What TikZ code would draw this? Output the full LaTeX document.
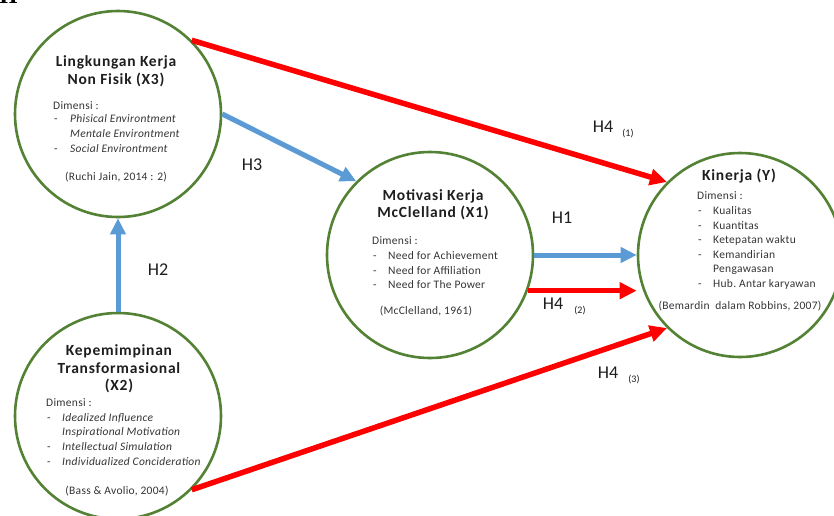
\documentclass[tikz,border=0pt]{standalone}
\usepackage{fontspec}
\setmainfont{Carlito}
\newfontfamily\serifhead{Liberation Serif}
\newfontfamily\ttlfont[LetterSpace=5]{Carlito}
\newfontfamily\bodyfont[LetterSpace=2.5]{Carlito}
\usetikzlibrary{arrows.meta}
\definecolor{cgreen}{RGB}{84,130,53}
\definecolor{cblue}{RGB}{91,155,213}
\definecolor{cred}{RGB}{255,0,0}
\definecolor{ctext}{RGB}{30,30,30}
\tikzset{
  circ/.style={circle,draw=cgreen,line width=2.6pt,minimum size=206pt,inner sep=0pt},
  ttl/.style={font=\ttlfont\fontsize{15.5}{18}\selectfont\bfseries,text=ctext,inner sep=0pt,text height=0.72em,text depth=0.22em},
  body/.style={font=\bodyfont\fontsize{11.5}{14}\selectfont,text=ctext!90,inner sep=0pt,text height=0.72em,text depth=0.22em,anchor=west},
  bodyc/.style={body,anchor=center},
  bul/.style={body},
  hlab/.style={font=\fontsize{18}{20}\selectfont,text=ctext,inner sep=0pt,text height=0.7em,text depth=0.2em},
  hsub/.style={font=\fontsize{10}{12}\selectfont,text=ctext,inner sep=0pt,text height=0.7em,text depth=0.2em},
  redarr/.style={draw=cred,line width=5.5pt,-{Triangle[length=17pt,width=16pt]}},
  bluearr/.style={draw=cblue,line width=5pt,-{Triangle[length=16pt,width=15pt]}},
}
\begin{document}
\begin{tikzpicture}[x=1pt,y=-1pt]
\useasboundingbox (0,0) rectangle (834,515);
\clip (0,0) rectangle (834,515);
\fill[white] (0,0) rectangle (834,515);
% partial heading at top edge
\node[font=\serifhead\fontsize{24}{26}\selectfont\bfseries,inner sep=0pt,anchor=base west] (head) at (-1,3) {II};
% circles
\node[circ] (x3) at (118,114) {};
\node[circ] (x2) at (118,416) {};
\node[circ] (x1) at (430,255) {};
\node[circ,minimum size=204pt] (y) at (740,255) {};
% arrows
\draw[bluearr] (x2.north) -- (x3.south);
\draw[bluearr] (x3.east) -- (x1.135);
\draw[bluearr] (x1.east) -- (y.west);
\draw[redarr] (x3.45) -- (y.135);
\draw[redarr] (x1.-20) -- (x1.-20 -| y.west);
\draw[redarr] (x2.-45) -- (y.225);
% labels
\node[hlab] (h2) at (158,273) {H2};
\node[hlab] (h3) at (252,168) {H3};
\node[hlab] (h1) at (562,221) {H1};
\node[hlab] (h41) at (603,130) {H4};
\node[hsub] (h41s) at (628,134) {(1)};
\node[hlab] (h42) at (553,307) {H4};
\node[hsub] (h42s) at (580,311) {(2)};
\node[hlab] (h43) at (608,376) {H4};
\node[hsub] (h43s) at (634,380) {(3)};
% X3 text
\node[ttl] (x3t1) at (116,64) {Lingkungan Kerja};
\node[ttl] (x3t2) at (116,82) {Non Fisik (X3)};
\node[body] (x3d) at (53,107) {Dimensi :};
\node[bul] (x3b1) at (54,120) {-};
\node[body] (x3l1) at (70,120) {\itshape Phisical Environtment};
\node[body] (x3l2) at (70,135) {\itshape Mentale Environtment};
\node[bul] (x3b3) at (54,150) {-};
\node[body] (x3l3) at (70,150) {\itshape Social Environtment};
\node[bodyc] (x3r) at (116,178) {(Ruchi Jain, 2014 : 2)};
% X2 text
\node[ttl] (x2t1) at (119,353) {Kepemimpinan};
\node[ttl] (x2t2) at (119,371) {Transformasional};
\node[ttl] (x2t3) at (119,388) {(X2)};
\node[body] (x2d) at (46,404) {Dimensi :};
\node[bul] (x2b1) at (47,419) {-};
\node[body] (x2l1) at (62,419) {\itshape Idealized Influence};
\node[body] (x2l2) at (62,433) {\itshape Inspirational Motivation};
\node[bul] (x2b3) at (47,448) {-};
\node[body] (x2l3) at (62,448) {\itshape Intellectual Simulation};
\node[bul] (x2b4) at (47,463) {-};
\node[body] (x2l4) at (62,463) {\itshape Individualized Concideration};
\node[bodyc] (x2r) at (117,492) {(Bass \& Avolio, 2004)};
% X1 text
\node[ttl] (x1t1) at (433,198) {Motivasi Kerja};
\node[ttl] (x1t2) at (433,215) {McClelland (X1)};
\node[body] (x1d) at (372,242) {Dimensi :};
\node[bul] (x1b1) at (373,257) {-};
\node[body] (x1l1) at (388,257) {Need for Achievement};
\node[bul] (x1b2) at (373,272) {-};
\node[body] (x1l2) at (388,272) {Need for Affiliation};
\node[bul] (x1b3) at (373,286) {-};
\node[body] (x1l3) at (388,286) {Need for The Power};
\node[bodyc] (x1r) at (426,312) {(McClelland, 1961)};
% Y text
\node[ttl] (yt1) at (739,178) {Kinerja (Y)};
\node[body] (yd) at (697,197) {Dimensi :};
\node[bul] (yb1) at (698,212) {-};
\node[body] (yl1) at (713,212) {Kualitas};
\node[bul] (yb2) at (698,227) {-};
\node[body] (yl2) at (713,227) {Kuantitas};
\node[bul] (yb3) at (698,241) {-};
\node[body] (yl3) at (713,241) {Ketepatan waktu};
\node[bul] (yb4) at (698,256) {-};
\node[body] (yl4) at (713,256) {Kemandirian};
\node[body] (yl5) at (713,270) {Pengawasan};
\node[bul] (yb6) at (698,285) {-};
\node[body] (yl6) at (713,285) {Hub.\ Antar karyawan};
\node[bodyc] (yr) at (740,307) {(Bemardin\ \ dalam Robbins, 2007)};
\end{tikzpicture}
\end{document}
